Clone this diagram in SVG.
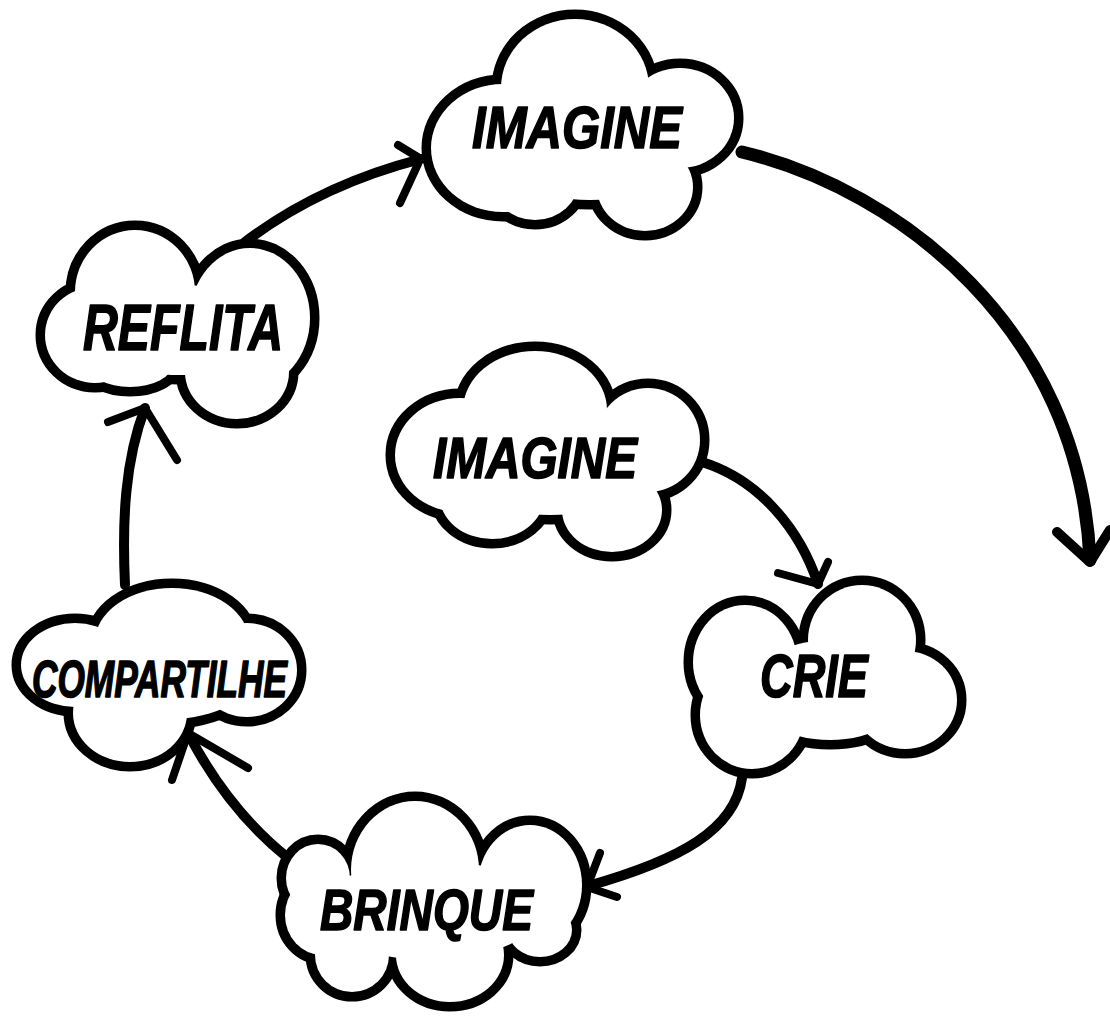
<svg xmlns="http://www.w3.org/2000/svg" xmlns:xlink="http://www.w3.org/1999/xlink" width="1110" height="1018" viewBox="0 0 1110 1018">
<style>
.ink{fill:#000;stroke:#000;stroke-width:19;stroke-linejoin:round}
.paper{fill:#fff;stroke:none}
.lbl{font-family:"Liberation Sans","DejaVu Sans",Arial,sans-serif;font-weight:bold;font-style:italic;fill:#000;stroke:#000;stroke-width:1.6;stroke-linejoin:round}
.con{fill:none;stroke:#000;stroke-linecap:round;stroke-linejoin:round}
.w13{stroke-width:13}.w10{stroke-width:10}.w8{stroke-width:8}
</style>
<defs>
<g id="s1">
<ellipse cx="503" cy="148" rx="72" ry="64"/>
<ellipse cx="575" cy="88" rx="74" ry="69"/>
<ellipse cx="680" cy="118" rx="54" ry="50"/>
<ellipse cx="645" cy="187" rx="48" ry="44"/>
<ellipse cx="535" cy="180" rx="44" ry="40"/>
<ellipse cx="590" cy="145" rx="100" ry="55"/>
</g>
<g id="s2">
<ellipse cx="135" cy="292" rx="60" ry="62"/>
<ellipse cx="250" cy="318" rx="60" ry="70"/>
<ellipse cx="95" cy="335" rx="50" ry="48"/>
<ellipse cx="237" cy="372" rx="52" ry="47"/>
<ellipse cx="130" cy="365" rx="42" ry="22"/>
<ellipse cx="180" cy="330" rx="90" ry="45"/>
</g>
<g id="s3">
<ellipse cx="172" cy="642" rx="77" ry="54"/>
<ellipse cx="247" cy="670" rx="50" ry="47"/>
<ellipse cx="75" cy="665" rx="54" ry="42"/>
<ellipse cx="130" cy="713" rx="57" ry="49"/>
<ellipse cx="160" cy="680" rx="90" ry="40"/>
</g>
<g id="s4">
<ellipse cx="318" cy="878" rx="32" ry="34"/>
<ellipse cx="415" cy="870" rx="64" ry="69"/>
<ellipse cx="530" cy="885" rx="52" ry="60"/>
<ellipse cx="322" cy="915" rx="37" ry="40"/>
<ellipse cx="352" cy="955" rx="37" ry="37"/>
<ellipse cx="450" cy="955" rx="54" ry="47"/>
<ellipse cx="540" cy="930" rx="32" ry="27"/>
<ellipse cx="430" cy="910" rx="110" ry="50"/>
</g>
<g id="s5">
<ellipse cx="745" cy="662" rx="52" ry="57"/>
<ellipse cx="862" cy="640" rx="54" ry="55"/>
<ellipse cx="905" cy="700" rx="52" ry="49"/>
<ellipse cx="752" cy="715" rx="52" ry="54"/>
<ellipse cx="830" cy="690" rx="80" ry="50"/>
</g>
<g id="s6">
<ellipse cx="535" cy="410" rx="72" ry="59"/>
<ellipse cx="648" cy="440" rx="52" ry="52"/>
<ellipse cx="612" cy="510" rx="50" ry="42"/>
<ellipse cx="460" cy="455" rx="65" ry="57"/>
<ellipse cx="492" cy="497" rx="52" ry="42"/>
<ellipse cx="550" cy="460" rx="100" ry="55"/>
</g>
</defs>
<rect width="1110" height="1018" fill="#fff"/>
<g id="connectors">
<path class="con w13" d="M742 152 C900 190 1080 330 1090 560"/>
<path class="con w10" d="M1057 532 L1090 562 L1110 530"/>
<path class="con w10" d="M245 242 Q320 185 421 159"/>
<path class="con w8" d="M398 145 L421 159 M400 203 L418 164"/>
<path class="con w10" d="M125 585 C122 520 125 460 145 408"/>
<path class="con w8" d="M108 422 L145 408 L177 460"/>
<path class="con w10" d="M288 858 Q228 810 188 733"/>
<path class="con w8" d="M172 780 L188 733 L248 768"/>
<path class="con w10" d="M742 778 C735 830 680 860 588 886"/>
<path class="con w8" d="M600 853 L587 887 L617 897"/>
<path class="con w10" d="M702 462 C760 480 800 530 818 584"/>
<path class="con w8" d="M778 573 L818 584 L828 562"/>
</g>
<g id="node-imagine-top">
<use xlink:href="#s1" class="ink"/>
<use xlink:href="#s1" class="paper"/>
<text class="lbl" x="472" y="148" font-size="60" textLength="210" lengthAdjust="spacingAndGlyphs">IMAGINE</text>
</g>
<g id="node-reflita">
<use xlink:href="#s2" class="ink"/>
<use xlink:href="#s2" class="paper"/>
<text class="lbl" x="83" y="350" font-size="65" textLength="200" lengthAdjust="spacingAndGlyphs">REFLITA</text>
</g>
<g id="node-compartilhe">
<use xlink:href="#s3" class="ink"/>
<use xlink:href="#s3" class="paper"/>
<text class="lbl" x="32" y="697" font-size="52" textLength="255" lengthAdjust="spacingAndGlyphs">COMPARTILHE</text>
</g>
<g id="node-brinque">
<use xlink:href="#s4" class="ink"/>
<use xlink:href="#s4" class="paper"/>
<text class="lbl" x="320" y="930" font-size="58" textLength="213" lengthAdjust="spacingAndGlyphs">BRINQUE</text>
</g>
<g id="node-crie">
<use xlink:href="#s5" class="ink"/>
<use xlink:href="#s5" class="paper"/>
<text class="lbl" x="760" y="697" font-size="61" textLength="108" lengthAdjust="spacingAndGlyphs">CRIE</text>
</g>
<g id="node-imagine-inner">
<use xlink:href="#s6" class="ink"/>
<use xlink:href="#s6" class="paper"/>
<text class="lbl" x="433" y="478" font-size="57" textLength="204" lengthAdjust="spacingAndGlyphs">IMAGINE</text>
</g>
</svg>
